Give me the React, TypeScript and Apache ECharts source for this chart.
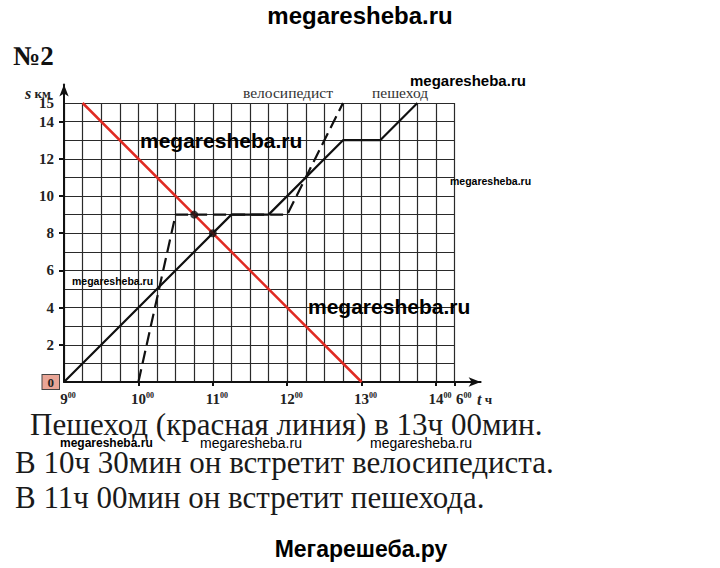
import React, { useEffect, useRef } from "react";
import * as echarts from "echarts";

// Hours on the time axis (t, ч) and distances (s, км)
const hourLabels = [9, 10, 11, 12, 13, 14];
const oddLabelValue = 14.32; // the printed "6⁰⁰" label next to 14⁰⁰
const hourTicks = [10, 11, 12, 13, 14, 14.25];
const kmLabels = [0, 2, 4, 6, 8, 10, 12, 14, 15];
const kmTicks = [2, 4, 6, 8, 10, 12, 14];

// Series: [time in hours, distance in km]
const redLine = [
  [9.25, 15],
  [13, 0],
];
const pedestrian = [
  [9, 0],
  [11.25, 9],
  [11.75, 9],
  [12.75, 13],
  [13.25, 13],
  [13.75, 15],
];
const cyclist = [
  [10, 0],
  [10.5, 9],
  [12, 9],
  [12.75, 15],
];
const meetings = [
  [10.75, 9],
  [11, 8],
];

const answerLines = [
  "Пешеход (красная линия) в 13ч 00мин.",
  "В 10ч 30мин он встретит велосипедиста.",
  "В 11ч 00мин он встретит пешехода.",
];

const SERIF = "'Liberation Serif', 'DejaVu Serif', serif";
const SANS = "'Liberation Sans', Arial, sans-serif";

// layout
const X0 = 64;
const HOUR = 74.4;
const Y0 = 382;
const KM = 18.6;

export default function App() {
  const ref = useRef<HTMLDivElement>(null);

  useEffect(() => {
    if (!ref.current) return;
    const chart = echarts.init(ref.current, null, { renderer: "svg" });

    const gridRight0 = 720 - (X0 + 5.25 * HOUR);
    const gridRight1 = 720 - (X0 + 5.6 * HOUR);
    const gridTop0 = Y0 - 15 * KM;
    const gridTop1 = Y0 - 16 * KM;

    const wm = (
      text: string,
      x: number,
      y: number,
      size: number,
      bold = true
    ) => ({
      type: "text",
      x,
      y,
      z: 100,
      style: {
        text,
        fill: "#000",
        font: `${bold ? "bold " : ""}${size}px ${SANS}`,
        verticalAlign: "middle",
      },
    });

    const option: any = {
      animation: false,
      backgroundColor: "#fff",
      textStyle: { fontFamily: SERIF },
      grid: [
        {
          left: X0,
          right: gridRight0,
          top: gridTop0,
          bottom: 568 - Y0,
          containLabel: false,
        },
        {
          left: X0,
          right: gridRight1,
          top: gridTop1,
          bottom: 568 - Y0,
          containLabel: false,
        },
      ],
      xAxis: [
        {
          gridIndex: 0,
          type: "value",
          min: 9,
          max: 14.25,
          interval: 0.25,
          axisLine: { show: false },
          axisTick: { show: false },
          axisLabel: { show: false },
          splitLine: { show: true, lineStyle: { color: "#2a2a2a", width: 1.2 } },
        },
        {
          gridIndex: 1,
          type: "value",
          min: 9,
          max: 14.6,
          axisLine: {
            show: true,
            lineStyle: { color: "#111", width: 2 },
            symbol: ["none", "arrow"],
            symbolSize: [7, 12],
          },
          axisTick: {
            show: true,
            customValues: hourTicks,
            length: 4,
            lineStyle: { color: "#111", width: 2 },
          },
          axisLabel: {
            show: true,
            color: "#222",
            customValues: [...hourLabels, oddLabelValue],
            margin: 9,
            formatter: (v: number) =>
              v > 14.1 && v < 14.5
                ? "{p|}{n|6}{s|00}"
                : `{p|}{n|${Math.round(v)}}{s|00}`,
            rich: {
              p: { width: 8 },
              n: {
                fontFamily: SERIF,
                fontWeight: "bold",
                fontSize: 15,
                color: "#222",
              },
              s: {
                fontFamily: SERIF,
                fontWeight: "bold",
                fontSize: 8,
                color: "#222",
                verticalAlign: "top",
              },
            },
          },
          splitLine: { show: false },
        },
      ],
      yAxis: [
        {
          gridIndex: 0,
          type: "value",
          min: 0,
          max: 15,
          interval: 1,
          axisLine: { show: false },
          axisTick: { show: false },
          axisLabel: { show: false },
          splitLine: { show: true, lineStyle: { color: "#2a2a2a", width: 1.2 } },
        },
        {
          gridIndex: 1,
          type: "value",
          min: 0,
          max: 16,
          axisLine: {
            show: true,
            lineStyle: { color: "#111", width: 2 },
            symbol: ["none", "arrow"],
            symbolSize: [7, 12],
          },
          axisTick: {
            show: true,
            customValues: kmTicks,
            length: 5,
            lineStyle: { color: "#111", width: 2 },
          },
          axisLabel: {
            show: true,
            color: "#222",
            customValues: kmLabels,
            margin: 5,
            formatter: (v: number) => (v === 0 ? "{box|0}" : `{n|${v}}`),
            rich: {
              n: {
                fontFamily: SERIF,
                fontWeight: "bold",
                fontSize: 15,
                color: "#222",
                padding: [0, 5, 0, 0],
              },
              box: {
                fontFamily: SERIF,
                fontWeight: "bold",
                fontSize: 13,
                color: "#222",
                backgroundColor: "#e9a596",
                borderColor: "#444",
                borderWidth: 1,
                padding: [1, 5, 0, 5],
              },
            },
          },
          splitLine: { show: false },
        },
      ],
      series: [
        {
          type: "line",
          name: "red",
          xAxisIndex: 1,
          yAxisIndex: 1,
          data: redLine,
          symbol: "none",
          lineStyle: { color: "#e02a22", width: 2.5 },
          z: 5,
        },
        {
          type: "line",
          name: "пешеход",
          xAxisIndex: 1,
          yAxisIndex: 1,
          data: pedestrian,
          symbol: "none",
          lineStyle: { color: "#111", width: 2.2 },
          z: 4,
        },
        {
          type: "line",
          name: "велосипедист",
          xAxisIndex: 1,
          yAxisIndex: 1,
          data: cyclist,
          symbol: "none",
          lineStyle: { color: "#111", width: 2.2, type: [13, 6] },
          z: 4,
        },
        {
          type: "scatter",
          xAxisIndex: 1,
          yAxisIndex: 1,
          data: meetings,
          symbol: "circle",
          symbolSize: 8,
          itemStyle: { color: "#111" },
          z: 6,
        },
      ],
      graphic: [
        {
          type: "text",
          x: 360,
          y: 15,
          style: {
            text: "megaresheba.ru",
            font: `bold 24px ${SANS}`,
            fill: "#000",
            align: "center",
            verticalAlign: "middle",
          },
        },
        {
          type: "text",
          x: 13,
          y: 56,
          style: {
            text: "№2",
            font: `bold 27px ${SERIF}`,
            fill: "#111",
            verticalAlign: "middle",
          },
        },
        {
          type: "text",
          x: 25,
          y: 93,
          style: {
            text: "{i|s} {b|км}",
            verticalAlign: "middle",
            rich: {
              i: {
                fontFamily: SERIF,
                fontStyle: "italic",
                fontWeight: "bold",
                fontSize: 16,
                fill: "#222",
              },
              b: {
                fontFamily: SERIF,
                fontWeight: "bold",
                fontSize: 13,
                fill: "#222",
              },
            },
          },
        },
        {
          type: "text",
          x: 477,
          y: 399,
          style: {
            text: "{i|t} {b|ч}",
            verticalAlign: "middle",
            rich: {
              i: {
                fontFamily: SERIF,
                fontStyle: "italic",
                fontWeight: "bold",
                fontSize: 16,
                fill: "#222",
              },
              b: {
                fontFamily: SERIF,
                fontWeight: "bold",
                fontSize: 13,
                fill: "#222",
              },
            },
          },
        },
        {
          type: "text",
          x: 243,
          y: 92,
          style: {
            text: "велосипедист",
            font: `15.5px ${SERIF}`,
            fill: "#333",
            verticalAlign: "middle",
          },
        },
        {
          type: "text",
          x: 372,
          y: 92,
          style: {
            text: "пешеход",
            font: `15.5px ${SERIF}`,
            fill: "#333",
            verticalAlign: "middle",
          },
        },
        wm("megaresheba.ru", 410, 80, 15),
        wm("megaresheba.ru", 140, 140, 21),
        wm("megaresheba.ru", 450, 181, 10.5),
        wm("megaresheba.ru", 72, 281, 10.5),
        wm("megaresheba.ru", 308, 306, 21),
        ...answerLines.map((t, i) => ({
          type: "text",
          x: i === 0 ? 30 : 15,
          y: [424, 462, 497][i],
          z: 50,
          style: {
            text: t,
            font: `31px ${SERIF}`,
            fill: "#1a1a1a",
            verticalAlign: "middle",
          },
        })),
        wm("megaresheba.ru", 60, 443, 12),
        wm("megaresheba.ru", 200, 443, 14, false),
        wm("megaresheba.ru", 370, 443, 14, false),
        {
          type: "text",
          x: 361,
          y: 549,
          style: {
            text: "Мегарешеба.ру",
            font: `bold 23px ${SANS}`,
            fill: "#000",
            align: "center",
            verticalAlign: "middle",
          },
        },
      ],
    };

    chart.setOption(option);
    return () => chart.dispose();
  }, []);

  return (
    <div
      ref={ref}
      style={{
        position: "absolute",
        left: 0,
        top: 0,
        width: 720,
        height: 568,
        background: "#fff",
      }}
    />
  );
}
